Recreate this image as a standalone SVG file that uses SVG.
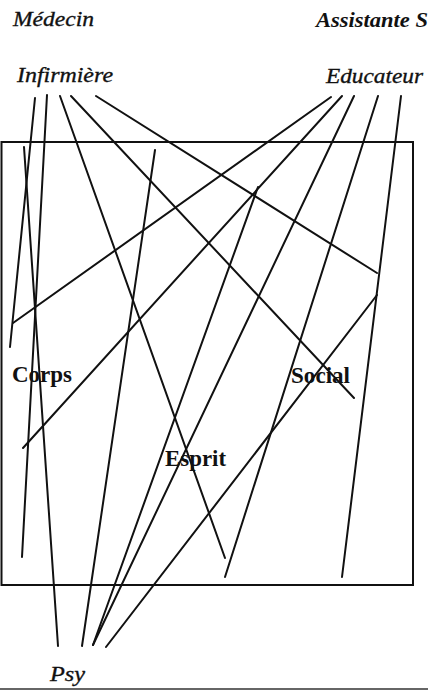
<svg xmlns="http://www.w3.org/2000/svg" width="428" height="690" viewBox="0 0 428 690">
<style>
.lbl{font-family:"Liberation Serif","Times New Roman",serif;font-style:italic;font-size:22px;fill:#111;stroke:#111;stroke-width:0.35}
.lblb{font-family:"Liberation Serif","Times New Roman",serif;font-style:italic;font-weight:bold;font-size:20px;fill:#111}
.cat{font-family:"Liberation Serif","Times New Roman",serif;font-weight:bold;font-size:23px;fill:#111}
.ln{stroke:#111;stroke-width:2;stroke-linecap:round;fill:none}
.box{stroke:#111;stroke-width:2;fill:none}
</style>
<rect x="0" y="0" width="428" height="690" fill="#fff"/>
<g id="frame"><rect class="box" x="1.5" y="142" width="411.5" height="443"/></g>
<g id="medecin"><text class="lbl" x="13" y="26" textLength="81" lengthAdjust="spacingAndGlyphs">Médecin</text></g>
<g id="assistante"><text class="lblb" x="316" y="27" textLength="112" lengthAdjust="spacingAndGlyphs">Assistante S</text></g>
<g id="infirmiere"><text class="lbl" x="17" y="82" textLength="96" lengthAdjust="spacingAndGlyphs">Infirmière</text></g>
<g id="educateur"><text class="lbl" x="326" y="83" textLength="97" lengthAdjust="spacingAndGlyphs">Educateur</text></g>
<g id="psy"><text class="lbl" x="50" y="681" textLength="35" lengthAdjust="spacingAndGlyphs">Psy</text></g>
<g id="corps"><text class="cat" x="12" y="382" textLength="60" lengthAdjust="spacingAndGlyphs">Corps</text></g>
<g id="esprit"><text class="cat" x="165" y="466" textLength="61" lengthAdjust="spacingAndGlyphs">Esprit</text></g>
<g id="social"><text class="cat" x="291" y="383" textLength="59" lengthAdjust="spacingAndGlyphs">Social</text></g>
<g id="connectors">
<line class="ln" x1="35" y1="98" x2="10" y2="347"/>
<line class="ln" x1="47" y1="95" x2="22" y2="557"/>
<line class="ln" x1="60" y1="96" x2="225" y2="558"/>
<line class="ln" x1="71" y1="96" x2="354" y2="398"/>
<line class="ln" x1="96" y1="96" x2="377" y2="273"/>
<line class="ln" x1="331" y1="97" x2="13" y2="323"/>
<line class="ln" x1="342" y1="96" x2="23" y2="448"/>
<line class="ln" x1="354" y1="96" x2="93" y2="645"/>
<line class="ln" x1="378" y1="96" x2="225" y2="577"/>
<line class="ln" x1="401" y1="96" x2="342" y2="577"/>
<line class="ln" x1="24" y1="147" x2="58" y2="646"/>
<line class="ln" x1="155" y1="150" x2="82" y2="646"/>
<line class="ln" x1="258" y1="187" x2="93" y2="645"/>
<line class="ln" x1="377" y1="295" x2="106" y2="647"/>
</g>
<line x1="0" y1="689" x2="428" y2="689" stroke="#666" stroke-width="2"/>
</svg>
